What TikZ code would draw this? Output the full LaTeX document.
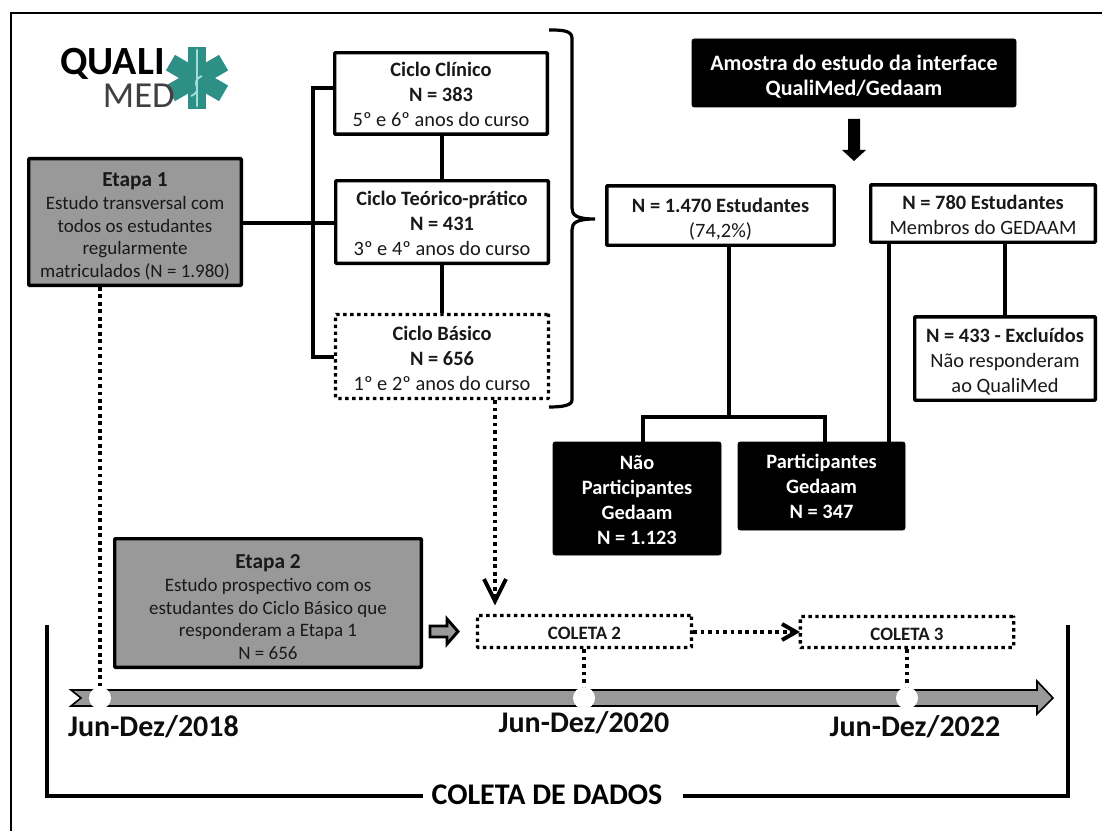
\documentclass[tikz,border=0pt]{standalone}
\usepackage{fontspec}
\setmainfont{Carlito}
\usetikzlibrary{calc}
\definecolor{boxgray}{HTML}{999999}
\definecolor{teal1}{HTML}{2E8F86}
\definecolor{teal2}{HTML}{9FE0D8}
\newcommand{\toppad}[1]{\rule{0pt}{#1}}
\tikzset{
  bx/.style={draw=black,line width=2.6pt,fill=white,inner sep=0pt,align=center,rounded corners=0.6pt,font=\fontsize{15.3pt}{18.75pt}\selectfont,text=black!90},
  graybx/.style={bx,fill=boxgray,font=\fontsize{14.25pt}{17pt}\selectfont},
  blackbx/.style={draw=black,line width=0.4pt,fill=black,rounded corners=1.5pt,inner sep=0pt,align=center,text=white,font=\fontsize{15.3pt}{18.75pt}\selectfont\bfseries},
  dotbx/.style={bx,line width=2.5pt,dash pattern=on 2.6pt off 2.6pt},
  colbx/.style={dotbx,font=\fontsize{14.2pt}{16pt}\selectfont\bfseries},
  conn/.style={draw=black,line width=2.6pt},
  thinconn/.style={draw=black,line width=2.4pt},
  dotconn/.style={draw=black,line width=3pt,dash pattern=on 2.8pt off 2.8pt},
  opentip/.style={draw=black,line width=3pt},
  frameline/.style={draw=black,line width=2.6pt},
  datelabel/.style={font=\fontsize{22.5pt}{24pt}\selectfont\bfseries,inner sep=0pt,text=black!95},
}
\begin{document}
\begin{tikzpicture}[x=0.75pt,y=-0.75pt]
\useasboundingbox (0,0) rectangle (1102,831);
% outer frame: only its top and left sides lie inside the picture
\coordinate (fa) at (11,831);
\coordinate (fb) at (11,13);
\coordinate (fc) at (1102,13);
\draw[draw=black,line width=2pt] (fa) -- (fb) -- (fc);
% logo
\foreach \a in {90,30,-30}{
  \draw[teal1,line width=13.5pt] ($(197,78)+(\a:23pt)$) -- ($(197,78)-(\a:23pt)$);
}
\draw[teal2,line width=2.2pt,line cap=round] (197,50) -- (197,106);
\draw[teal2,line width=1.4pt] (191,96) .. controls (205,90) and (188,82) .. (202,76);
\node[inner sep=0pt,font=\fontsize{30pt}{30pt}\selectfont\bfseries,anchor=base east] (quali) at (165,75) {QUALI};
\node[inner sep=0pt,font=\fontsize{27.5pt}{28pt}\selectfont,text=black!75,anchor=base east] (med) at (175,108) {MED};
% boxes
\node[graybx,minimum width=159.4pt,minimum height=94.9pt] (e1) at (135,222) {\toppad{17pt}{\fontsize{16pt}{18pt}\selectfont\bfseries Etapa 1}\\Estudo transversal com\\todos os estudantes\\regularmente\\matriculados (N = 1.980)};
\node[bx,minimum width=159.4pt,minimum height=61.1pt] (clin) at (441,93.5) {\toppad{12.7pt}\textbf{Ciclo Clínico}\\\textbf{N = 383}\\5º e 6º anos do curso};
\node[bx,minimum width=159.4pt,minimum height=61.9pt] (teo) at (442,222) {\toppad{12.7pt}\textbf{Ciclo Teórico-prático}\\\textbf{N = 431}\\3º e 4º anos do curso};
\node[dotbx,minimum width=159.8pt,minimum height=63pt] (bas) at (442,356.5) {\toppad{13.5pt}\textbf{Ciclo Básico}\\\textbf{N = 656}\\1º e 2º anos do curso};
\node[blackbx,minimum width=243pt,minimum height=51pt,font=\fontsize{16.5pt}{18.75pt}\selectfont\bfseries] (am) at (854,73) {\toppad{16.5pt}Amostra do estudo da interface\\QualiMed/Gedaam};
\node[bx,minimum width=170.6pt,minimum height=44.6pt] (n1470) at (720.5,215.5) {\toppad{17pt}\textbf{N = 1.470 Estudantes}\\(74,2\%)};
\node[bx,minimum width=168.4pt,minimum height=43.1pt] (n780) at (983,213.5) {\toppad{12.5pt}\textbf{N = 780 Estudantes}\\Membros do GEDAAM};
\node[bx,minimum width=135.4pt,minimum height=62.6pt] (n433) at (1005,358.5) {\toppad{15pt}\textbf{N = 433 - Excluídos}\\Não responderam\\ao QualiMed};
\node[blackbx,minimum width=126pt,minimum height=84.75pt] (nao) at (637,498.5) {\toppad{12.5pt}Não\\Participantes\\Gedaam\\N = 1.123};
\node[blackbx,minimum width=125.25pt,minimum height=66pt] (par) at (821.5,486) {\toppad{12pt}Participantes\\Gedaam\\N = 347};
\node[graybx,minimum width=229.9pt,minimum height=96.4pt] (e2) at (268,603) {\toppad{17pt}{\fontsize{16pt}{18pt}\selectfont\bfseries Etapa 2}\\Estudo prospectivo com os\\estudantes do Ciclo Básico que\\responderam a Etapa 1\\N = 656};
\node[colbx,minimum width=160.5pt,minimum height=24pt] (c2) at (584.5,631.5) {\toppad{12.2pt}COLETA 2};
\node[colbx,minimum width=160pt,minimum height=23.3pt] (c3) at (907,632) {\toppad{12.2pt}COLETA 3};
% tree connectors
\draw[conn] (e1.east |- 0,223) -- (teo.west |- 0,223);
\draw[conn] (clin.west |- 0,88) -- (313,88) -- (313,357) -- (bas.west |- 0,357);
\draw[conn] (clin.south -| 442,0) -- (teo.north -| 442,0);
\draw[conn] (teo.south -| 442,0) -- (bas.north -| 442,0);
\draw[thinconn] (n1470.south -| 729,0) -- (729,417);
\coordinate (bl) at (643,417);
\coordinate (br) at (825,417);
\draw[thinconn] (nao.north -| bl) -- (bl) -- (br) -- (par.north -| br);
\draw[thinconn] (n780.south -| 889,0) -- (par.north -| 889,0);
\draw[conn] (n780.south -| 1005,0) -- (n433.north);
% brace
\coordinate (brtip) at (595,219);
\draw[draw=black,line width=2.4pt] (549,30) .. controls (560,30) and (572,30) .. (572,38) -- (572,208) .. controls (572,215) and (576,219) .. (brtip) .. controls (576,219) and (572,223) .. (572,230) -- (572,400) .. controls (572,406) and (560,407) .. (549,407);
% block arrow down
\fill[black] (848,119) -- (860,119) -- (860,150) -- (866,150) -- (854,161) -- (842,150) -- (848,150) -- cycle;
% dotted
\coordinate (t1) at (100,698);
\coordinate (t2) at (584,698);
\coordinate (t3) at (907,698);
\draw[dotconn] (e1.south -| t1) -- (t1);
\draw[dotconn] (c2.south -| t2) -- (t2);
\draw[dotconn] (c3.south -| t3) -- (t3);
\coordinate (tipa) at (495,601);
\draw[dotconn] (bas.south -| tipa) -- (tipa);
\draw[opentip] (484,579) -- (tipa) -- (506,579);
\coordinate (tipb) at (796,632);
\draw[dotconn] (c2.east |- tipb) -- (tipb);
\draw[opentip] (782,624) -- (tipb) -- (782,640);
% small block arrow
\draw[draw=black,line width=2.2pt,fill=boxgray,miter limit=10] (430,626) -- (447,626) -- (447,619) -- (458,631.5) -- (447,644) -- (447,637) -- (430,637) -- cycle;
% timeline
\draw[draw=black,line width=1.2pt,fill=boxgray] (71,690) -- (1037,690) -- (1037,681) -- (1053,698) -- (1037,714) -- (1037,706) -- (71,706) -- (81,698) -- cycle;
\foreach \t in {t1,t2,t3}{\fill[white] (\t) circle (8.25pt);}
\node[datelabel] (d1) at (153.5,727) {Jun-Dez/2018};
\node[datelabel] (d2) at (584,723) {Jun-Dez/2020};
\node[datelabel] (d3) at (915,727) {Jun-Dez/2022};
\node[inner sep=0pt,font=\fontsize{22.5pt}{24pt}\selectfont\bfseries] (cd) at (547,795) {COLETA DE DADOS};
\coordinate (la) at (47,625);
\coordinate (lb) at (47,796);
\coordinate (lc) at (423,796);
\coordinate (ra) at (683,796);
\coordinate (rb) at (1068,796);
\coordinate (rc) at (1068,625);
\draw[frameline] (la) -- (lb) -- (lc);
\draw[frameline] (ra) -- (rb) -- (rc);
\end{tikzpicture}
\end{document}
